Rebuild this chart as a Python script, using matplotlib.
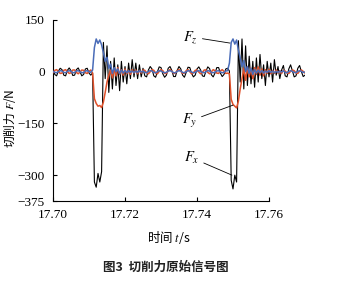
import numpy as np
import matplotlib
matplotlib.use("Agg")
import matplotlib.pyplot as plt

# sampling grid of the cutting force record
t0 = 17.700
dt = 0.0005

# F_x (black)
fx = [5, -8, -12, 2, 10, 6, -10, -12, 4, 11,
      3, -11, -10, 6, 11, 0, -12, -8, 8, 10,
      -4, -10, -3, -320, -335, -295, -320, -290, 85, -20,
      75, -60, 30, -50, 40, -40, 20, -55, 30, -30,
      15, -35, 25, -20, 35, -15, 25, -20, 20, -15,
      10, -12, -15, 5, 15, 8, -12, -16, 0, 14,
      12, -6, -16, -10, 10, 15, 4, -14, -14, 4,
      15, 8, -10, -16, -2, 13, 12, -5, -15, -10,
      8, 14, 5, -12, -14, 2, 14, 9, -9, -15,
      -4, 12, 12, -4, -14, -8, 8, 10, 2, -315,
      -340, -300, -320, 90, -30, 95, -50, 75, -40, 45,
      -35, 30, -45, 40, -30, 50, -20, 20, -40, 30,
      -15, 25, -30, 35, -10, 15, -20, 5, 18, -12,
      -15, 8, 20, 2, -15, -12, 10, 18, 0, -14,
      -10]

# F_y (red)
fy = [-3, 4, 6, 1, -5, -4, 4, 6, 0, -5,
      -3, 5, 5, -2, -6, -1, 5, 4, -3, -5,
      1, 5, -5, -78, -92, -100, -98, -104, -88, -60,
      -30, -10, 5, -18, 10, -12, 12, -8, 6, -10,
      8, -6, 4, -8, 6, -4, 5, -6, 3, -4,
      5, 4, -3, -6, 0, 6, 4, -4, -6, 1,
      6, 3, -5, -5, 2, 6, 2, -5, -4, 3,
      6, 1, -5, -4, 3, 6, 0, -6, -3, 4,
      5, -1, -6, -2, 5, 5, -2, -6, 0, 6,
      3, -4, -5, 2, 6, 1, -5, -4, -6, -80,
      -95, -100, -105, -85, -50, -20, 10, -25, 15, -15,
      10, -20, 12, -8, 14, -10, 8, -12, 6, -5,
      7, -6, 4, -5, 5, -4, 3, -5, 4, 2,
      -4, -5, 1, 5, 3, -4, -5, 2, 5, 1,
      -4]

# F_z (blue)
fz = [1, -2, -3, 0, 3, 2, -2, -3, 1, 3,
      1, -3, -2, 2, 3, 0, -3, -2, 2, 3,
      0, -2, 5, 70, 95, 82, 92, 78, 55, 30,
      42, 10, 22, -5, 12, 0, 8, -6, 5, -4,
      4, -3, 3, -2, 2, -3, 2, -2, 3, -1,
      2, -2, -3, 1, 3, 2, -2, -3, 0, 3,
      2, -1, -3, -2, 2, 3, 1, -3, -3, 1,
      3, 2, -2, -3, 0, 3, 2, -1, -3, -2,
      2, 3, 1, -2, -3, 0, 3, 2, -2, -3,
      -1, 2, 3, -1, -3, -2, 2, 3, 25, 85,
      95, 80, 92, 62, 40, 15, 32, 0, 15, -5,
      10, -8, 6, -4, 5, -3, 3, -4, 2, -2,
      3, -2, 2, -3, 1, -2, 2, -1, 3, -2,
      -3, 1, 3, 1, -2, -3, 1, 3, 1, -2,
      -1]

t = np.round(t0 + dt * np.arange(len(fx)), 4)

xticks = [17.70, 17.72, 17.74, 17.76]
xticklabels = ["17.70", "17.72", "17.74", "17.76"]
yticks = [150, 0, -150, -300, -375]
yticklabels = ["150", "0", "\u2212150", "\u2212300", "\u2212375"]

plt.rcParams["font.family"] = ["Liberation Serif", "DejaVu Serif"]
plt.rcParams["mathtext.fontset"] = "stix"

fig = plt.figure(figsize=(3.49, 2.82), dpi=100)
ax = fig.add_axes([53 / 349, 1 - 201 / 282, 252 / 349, 181 / 282])

ax.plot(t, fx, color="black", lw=0.8, zorder=2)
ax.plot(t, fy, color="#e0502a", lw=1.1, zorder=3)
ax.plot(t, fz, color="#4a6cb8", lw=1.1, zorder=4)

ax.set_xlim(17.70, 17.770)
ax.set_ylim(-375, 150)
ax.spines["top"].set_visible(False)
ax.spines["right"].set_visible(False)
ax.spines["bottom"].set_bounds(17.70, 17.76)
ax.set_xticks(xticks)
ax.set_xticklabels(xticklabels)
ax.set_yticks(yticks)
ax.set_yticklabels(yticklabels)
ax.tick_params(direction="in", length=3, width=0.8, labelsize=9.5)
ax.tick_params(axis="x", pad=6)
ax.tick_params(axis="y", pad=6)

lbl = dict(fontsize=10.5, ha="center", va="center",
           arrowprops=dict(arrowstyle="-", lw=0.6, color="black", shrinkA=1, shrinkB=0))
ax.annotate("$F_z$", xy=(17.7492, 83), xytext=(17.7383, 101), **lbl)
ax.annotate("$F_y$", xy=(17.7500, -97), xytext=(17.7380, -143), **lbl)
ax.annotate("$F_x$", xy=(17.7497, -300), xytext=(17.7386, -250), **lbl)

cjk = ["Noto Sans CJK SC", "DejaVu Sans"]
fig.text(10 / 349, 1 - 118 / 282, "切削力 $F$/N", rotation=90, ha="center", va="center",
         fontsize=8.5, family=cjk)
fig.text(169 / 349, 1 - 238 / 282, "时间 $t$/s", ha="center", va="center",
         fontsize=9, family=cjk)
fig.text(166 / 349, 1 - 267 / 282, "图3  切削力原始信号图", ha="center", va="center",
         fontsize=9, family=cjk, fontweight="bold", color="#222222")

fig.savefig("out.png", dpi=100)
